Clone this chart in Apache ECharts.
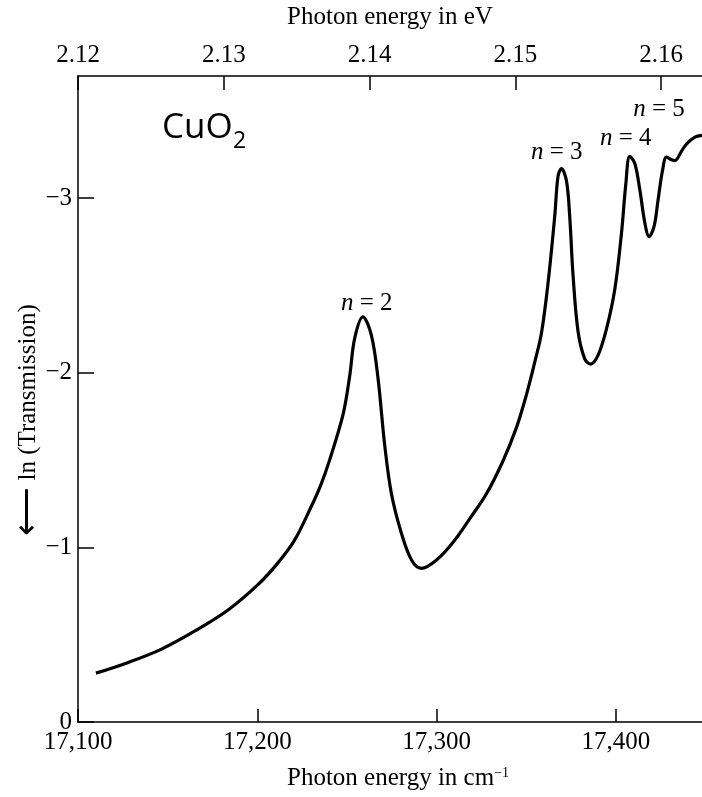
<!DOCTYPE html>
<html>
<head>
<meta charset="utf-8">
<script src="https://cdn.jsdelivr.net/npm/echarts@6/dist/echarts.min.js"></script>
<style>
  html, body { margin: 0; padding: 0; background: #fff; }
  #chart { width: 702px; height: 797px; }
</style>
</head>
<body>
<div id="chart"></div>
<script>
// photon energy in cm^-1
const wavenumber = [
  17110, 17127.7, 17146.3, 17165, 17183.5, 17200.2, 17211.4, 17220.7, 17229.9, 17235.5,
  17240.3, 17247.8, 17251.5, 17254.3, 17258.9, 17263.6, 17267.3, 17271, 17274.8, 17280.4,
  17286, 17291.5, 17299.9, 17309.2, 17318.5, 17327.8, 17337, 17344.5, 17350.1, 17354.7,
  17358.5, 17362.2, 17365.9, 17367.7, 17369.6, 17372.4, 17374.2, 17376.1, 17378.9, 17382.6,
  17385.8, 17390, 17394.7, 17399.4, 17403.1, 17405.5, 17407.7, 17410.5, 17413.3, 17416.1,
  17418.5, 17421.3, 17423.5, 17426, 17428.2, 17431, 17432.8, 17436.6, 17439.3, 17444, 17448
];
// ln(Transmission)
const lnTransmission = [
  -0.28, -0.34, -0.416, -0.52, -0.64, -0.785, -0.91, -1.04, -1.23, -1.36,
  -1.5, -1.76, -1.98, -2.197, -2.32, -2.216, -1.97, -1.59, -1.307, -1.08,
  -0.928, -0.88, -0.928, -1.03, -1.165, -1.307, -1.495, -1.686, -1.875, -2.06,
  -2.23, -2.52, -2.9, -3.125, -3.17, -3.1, -2.9, -2.556, -2.235, -2.08,
  -2.05, -2.1, -2.25, -2.48, -2.8, -3.08, -3.24, -3.2, -3.05, -2.86,
  -2.78, -2.84, -2.99, -3.16, -3.235, -3.22, -3.215, -3.27, -3.31, -3.35, -3.36
];

const bottomTicks = [17100, 17200, 17300, 17400];
const topTicks = [2.12, 2.13, 2.14, 2.15, 2.16];
const yTicks = [-3, -2, -1, 0];

// exciton line labels
const peakNames = ['2', '3', '4', '5'];
const peakLabelX = [17261, 17367, 17405.5, 17424];
const peakLabelY = [-2.40, -3.26, -3.34, -3.51];

const serif = '"Liberation Serif", "Times New Roman", serif';
const axisLine = { show: true, lineStyle: { color: '#000', width: 1.5 } };
const tickStyle = { color: '#000', width: 1.5 };

let chart = echarts.init(document.getElementById('chart'));

let option = {
  animation: false,
  textStyle: { fontFamily: serif, color: '#000' },
  grid: { left: 78, right: 0, top: 72, bottom: 75 },
  xAxis: [
    {
      type: 'value',
      position: 'bottom',
      min: 17100,
      max: 17448,
      interval: 100,
      splitLine: { show: false },
      axisLine: axisLine,
      axisTick: { inside: true, length: 13, customValues: bottomTicks, lineStyle: tickStyle },
      axisLabel: {
        customValues: bottomTicks,
        margin: 8,
        fontFamily: serif,
        fontSize: 25,
        color: '#000',
        formatter: v => v.toLocaleString('en-US')
      },
      name: 'Photon energy in cm{sup|−1}',
      nameLocation: 'middle',
      nameGap: 44,
      nameTextStyle: {
        fontFamily: serif,
        fontSize: 25,
        color: '#000',
        padding: [0, 0, 0, 16],
        rich: { sup: { fontFamily: serif, fontSize: 14, color: '#000', verticalAlign: 'top', padding: [0, 0, 10, 0] } }
      }
    },
    {
      type: 'value',
      position: 'top',
      min: 2.12,
      max: 2.1628,
      interval: 0.01,
      splitLine: { show: false },
      axisLine: axisLine,
      axisTick: { inside: true, length: 14, customValues: topTicks, lineStyle: tickStyle },
      axisLabel: {
        customValues: topTicks,
        margin: 8,
        fontFamily: serif,
        fontSize: 25,
        color: '#000',
        formatter: v => v.toFixed(2)
      },
      name: 'Photon energy in eV',
      nameLocation: 'middle',
      nameGap: 46,
      nameTextStyle: { fontFamily: serif, fontSize: 25, color: '#000' }
    }
  ],
  yAxis: {
    type: 'value',
    inverse: true,
    min: -3.70,
    max: 0,
    splitLine: { show: false },
    axisLine: axisLine,
    axisTick: { inside: true, length: 16, customValues: yTicks, lineStyle: tickStyle },
    axisLabel: {
      customValues: yTicks,
      margin: 6,
      fontFamily: serif,
      fontSize: 25,
      color: '#000',
      formatter: v => (v === 0 ? '0' : '−' + Math.abs(v))
    }
  },
  graphic: [
    {
      type: 'text',
      x: 28,
      y: 420,
      rotation: Math.PI / 2,
      style: {
        text: '{a|⟵} ln (Transmission)',
        font: '25px ' + serif,
        fill: '#000',
        align: 'center',
        verticalAlign: 'middle',
        rich: { a: { fontSize: 34, fill: '#000' } }
      }
    },
    {
      type: 'text',
      x: 162,
      y: 111,
      style: { text: 'CuO', font: '35px "Open Sans", "Noto Sans", sans-serif', fill: '#000' }
    },
    {
      type: 'text',
      x: 233,
      y: 130,
      style: { text: '2', font: '23px "Open Sans", "Noto Sans", sans-serif', fill: '#000' }
    }
  ],
  series: [
    {
      type: 'line',
      xAxisIndex: 0,
      data: wavenumber.map((w, i) => [w, lnTransmission[i]]),
      showSymbol: false,
      smooth: 0.35,
      lineStyle: { color: '#000', width: 3.2 }
    },
    {
      type: 'scatter',
      xAxisIndex: 0,
      symbolSize: 0,
      itemStyle: { opacity: 1, color: '#000' },
      data: peakNames.map((n, i) => [peakLabelX[i], peakLabelY[i], n]),
      label: {
        show: true,
        position: 'inside',
        formatter: p => '{i|n} = ' + p.value[2],
        fontFamily: serif,
        fontSize: 25,
        color: '#000',
        textBorderWidth: 0,
        rich: { i: { fontFamily: serif, fontStyle: 'italic', fontSize: 25, color: '#000' } }
      }
    }
  ]
};

chart.setOption(option);
</script>
</body>
</html>
